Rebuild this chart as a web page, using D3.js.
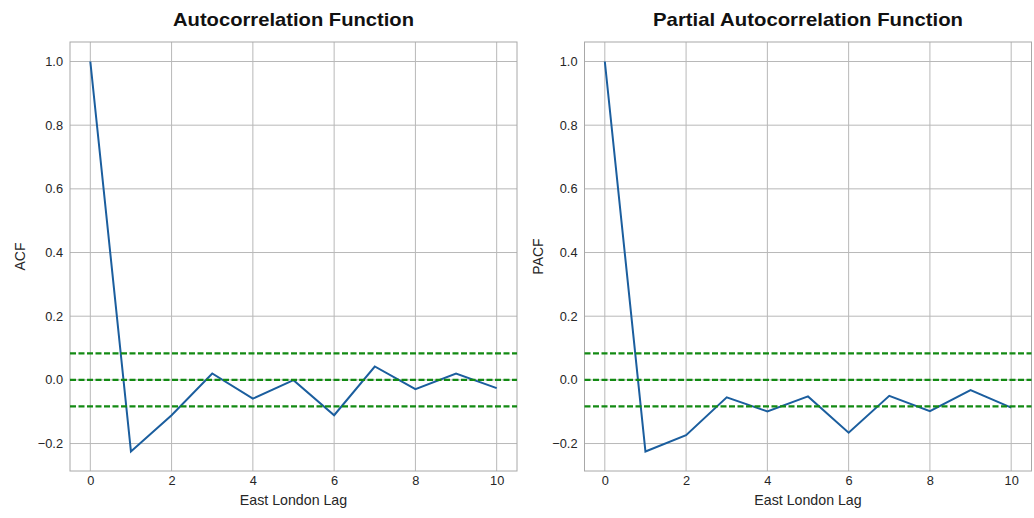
<!DOCTYPE html>
<html><head><meta charset="utf-8">
<script src="https://cdn.jsdelivr.net/npm/d3@7"></script>
<style>body{margin:0;background:#fff}svg{display:block}</style>
</head><body><svg id="c" width="1034" height="518"></svg>
<script>
const lags = [0,1,2,3,4,5,6,7,8,9,10];
const acfValues = [1.0,-0.225,-0.111,0.020,-0.059,-0.001,-0.111,0.042,-0.029,0.020,-0.026];
const pacfValues = [1.0,-0.225,-0.174,-0.055,-0.099,-0.052,-0.166,-0.050,-0.098,-0.032,-0.087];
const confBound = 0.083;
const refLines = [confBound, 0, -confBound];
const xTicks = [0,2,4,6,8,10];
const yTicks = [-0.2,0.0,0.2,0.4,0.6,0.8,1.0];
const titles = ["Autocorrelation Function","Partial Autocorrelation Function"];
const yLabels = ["ACF","PACF"];
const xLabel = "East London Lag";

(function(){
const svg = d3.select("#c");
const font = "'Liberation Sans', Arial, sans-serif";
const panels = [
  {left:70, right:517, vals:acfValues, title:titles[0], titleW:241, ylab:yLabels[0], ylabX:25},
  {left:584.5, right:1031.5, vals:pacfValues, title:titles[1], titleW:310, ylab:yLabels[1], ylabX:542.5}
];
const plotTop = 42, plotBottom = 471;

panels.forEach(p => {
  const ymin = d3.min(p.vals), ymax = d3.max(p.vals);
  const ym = (ymax - ymin) * 0.05;
  const x = d3.scaleLinear().domain([-0.5, 10.5]).range([p.left, p.right]);
  const y = d3.scaleLinear().domain([ymin - ym, ymax + ym]).range([plotBottom, plotTop]);
  const g = svg.append("g");

  g.selectAll(".gx").data(xTicks).join("line")
    .attr("x1", d => x(d)).attr("x2", d => x(d)).attr("y1", plotTop).attr("y2", plotBottom)
    .attr("stroke", "#b8b8b8").attr("stroke-width", 1);
  g.selectAll(".gy").data(yTicks).join("line")
    .attr("y1", d => y(d)).attr("y2", d => y(d)).attr("x1", p.left).attr("x2", p.right)
    .attr("stroke", "#b8b8b8").attr("stroke-width", 1);

  const xa = g.append("g").attr("transform", `translate(0,${plotBottom})`)
    .call(d3.axisBottom(x).tickValues(xTicks).tickSize(0).tickPadding(5).tickFormat(d3.format("d")));
  const ya = g.append("g").attr("transform", `translate(${p.left},0)`)
    .call(d3.axisLeft(y).tickValues(yTicks).tickSize(0).tickPadding(7).tickFormat(d3.format(".1f")));
  [xa, ya].forEach(a => {
    a.select(".domain").remove();
    a.selectAll("text").attr("font-family", font).attr("font-size", 12.8).attr("fill", "#262626");
  });

  g.append("rect").attr("x", p.left).attr("y", plotTop).attr("width", p.right - p.left).attr("height", plotBottom - plotTop)
    .attr("fill", "none").attr("stroke", "#a8a8a8").attr("stroke-width", 1);

  g.append("path").datum(lags.map((l, i) => [l, p.vals[i]]))
    .attr("d", d3.line().x(d => x(d[0])).y(d => y(d[1])))
    .attr("fill", "none").attr("stroke", "#1b5e9e").attr("stroke-width", 2);

  g.selectAll(".ref").data(refLines).join("line")
    .attr("x1", p.left).attr("x2", p.right).attr("y1", d => y(d)).attr("y2", d => y(d))
    .attr("stroke", "#138a13").attr("stroke-width", 2.2).attr("stroke-dasharray", "6,2.5");

  g.append("text").attr("x", (p.left + p.right) / 2).attr("y", 25.7).attr("text-anchor", "middle")
    .attr("font-family", font).attr("font-weight", "bold").attr("font-size", 19).attr("fill", "#111")
    .attr("textLength", p.titleW).attr("lengthAdjust", "spacingAndGlyphs")
    .text(p.title);
  g.append("text").attr("x", (p.left + p.right) / 2).attr("y", 505).attr("text-anchor", "middle")
    .attr("font-family", font).attr("font-size", 14.2).attr("fill", "#262626").text(xLabel);
  g.append("text").attr("transform", `translate(${p.ylabX},${(plotTop + plotBottom) / 2}) rotate(-90)`)
    .attr("text-anchor", "middle").attr("font-family", font).attr("font-size", 14).attr("fill", "#262626")
    .text(p.ylab);
});
})();
</script></body></html>
